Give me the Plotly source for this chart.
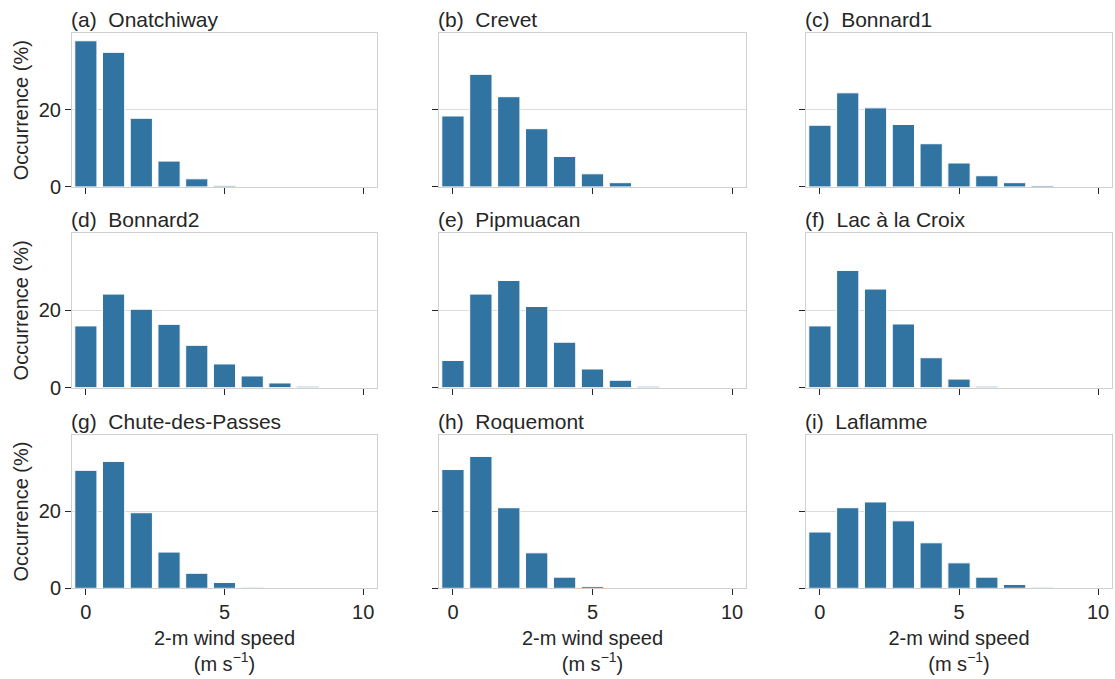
import plotly.graph_objects as go
from plotly.subplots import make_subplots

# Wind speed classes (m/s)
speeds = list(range(11))

# Station names and panel letters
stations = ["Onatchiway", "Crevet", "Bonnard1",
            "Bonnard2", "Pipmuacan", "Lac à la Croix",
            "Chute-des-Passes", "Roquemont", "Laflamme"]
letters = ["a", "b", "c", "d", "e", "f", "g", "h", "i"]

# Occurrence (%) per wind speed class
onatchiway = [37.9, 34.9, 17.8, 6.7, 2.1, 0.3, 0, 0, 0, 0, 0]
crevet = [18.4, 29.2, 23.4, 15.1, 7.9, 3.4, 1.1, 0, 0, 0, 0]
bonnard1 = [16.0, 24.4, 20.5, 16.2, 11.2, 6.2, 2.9, 1.1, 0.35, 0, 0]
bonnard2 = [15.9, 24.1, 20.2, 16.3, 10.9, 6.1, 3.0, 1.2, 0.35, 0, 0]
pipmuacan = [7.0, 24.1, 27.6, 20.9, 11.7, 4.8, 1.9, 0.35, 0, 0, 0]
lac_a_la_croix = [15.9, 30.2, 25.4, 16.4, 7.7, 2.2, 0.35, 0, 0, 0, 0]
chute_des_passes = [30.6, 32.9, 19.6, 9.4, 3.9, 1.5, 0.25, 0, 0, 0, 0]
roquemont = [30.8, 34.2, 20.9, 9.2, 2.9, 0.5, 0, 0, 0, 0, 0]
laflamme = [14.6, 20.9, 22.4, 17.5, 11.8, 6.6, 2.9, 1.0, 0.25, 0, 0]

series = [onatchiway, crevet, bonnard1, bonnard2, pipmuacan,
          lac_a_la_croix, chute_des_passes, roquemont, laflamme]

W, H = 1115, 679
BAR = "#3274a1"
TXT = "#262626"
EDGE = "#d0d0d0"
FONT = "Arial, Liberation Sans, sans-serif"

# panel frames in pixels: columns (left, right), rows (top, bottom)
cols_px = [(72, 377), (439, 746), (806, 1112)]
rows_px = [(34, 190), (237, 394), (442, 598)]

fig = make_subplots(rows=3, cols=3)

annotations = []
for k, (name, letter, vals) in enumerate(zip(stations, letters, series)):
    r, c = divmod(k, 3)
    fig.add_trace(
        go.Bar(x=speeds, y=vals, width=0.8, marker_color=BAR,
               marker_line_color="white", marker_line_width=1,
               showlegend=False, hoverinfo="x+y"),
        row=r + 1, col=c + 1)
    x0, x1 = cols_px[c]
    y0, y1 = rows_px[r]
    ax = "" if k == 0 else str(k + 1)
    fig.layout["xaxis" + ax].domain = [x0 / W, x1 / W]
    fig.layout["yaxis" + ax].domain = [1 - y1 / H, 1 - y0 / H]
    fig.update_xaxes(
        range=[-0.5, 10.5], tickvals=[0, 5, 10],
        showticklabels=(r == 2), ticks="outside", ticklen=6, tickwidth=1.2,
        tickcolor=TXT, showline=True, mirror=True, linecolor=EDGE,
        linewidth=1, showgrid=False, zeroline=False,
        tickfont=dict(size=20, color=TXT, family=FONT),
        row=r + 1, col=c + 1)
    fig.update_yaxes(
        range=[0, 39.8], tickvals=[0, 20],
        showticklabels=(c == 0), ticks="outside", ticklen=6, tickwidth=1.2,
        tickcolor=TXT, showline=True, mirror=True, linecolor=EDGE,
        linewidth=1, showgrid=True, gridcolor="#dcdcdc", gridwidth=1,
        zeroline=False,
        tickfont=dict(size=20, color=TXT, family=FONT),
        row=r + 1, col=c + 1)
    if r == 2:
        fig.update_xaxes(
            title=dict(text="2-m wind speed<br>(m s<sup>−1</sup>)",
                       font=dict(size=20, color=TXT, family=FONT), standoff=8),
            row=r + 1, col=c + 1)
    if c == 0:
        fig.update_yaxes(
            title=dict(text="Occurrence (%)",
                       font=dict(size=20, color=TXT, family=FONT), standoff=4),
            row=r + 1, col=c + 1)
    annotations.append(dict(
        text=f"({letter})\u00a0\u00a0{name}", xref="paper", yref="paper",
        x=x0 / W, y=1 - y0 / H, xanchor="left", yanchor="bottom",
        xshift=-3, yshift=0, showarrow=False,
        font=dict(size=21, color=TXT, family=FONT)))

fig.update_layout(
    width=W, height=H, margin=dict(l=0, r=0, t=0, b=0),
    paper_bgcolor="white", plot_bgcolor="white",
    bargap=0.2, annotations=annotations,
    font=dict(family=FONT, color=TXT))

fig.write_html("out.html")
